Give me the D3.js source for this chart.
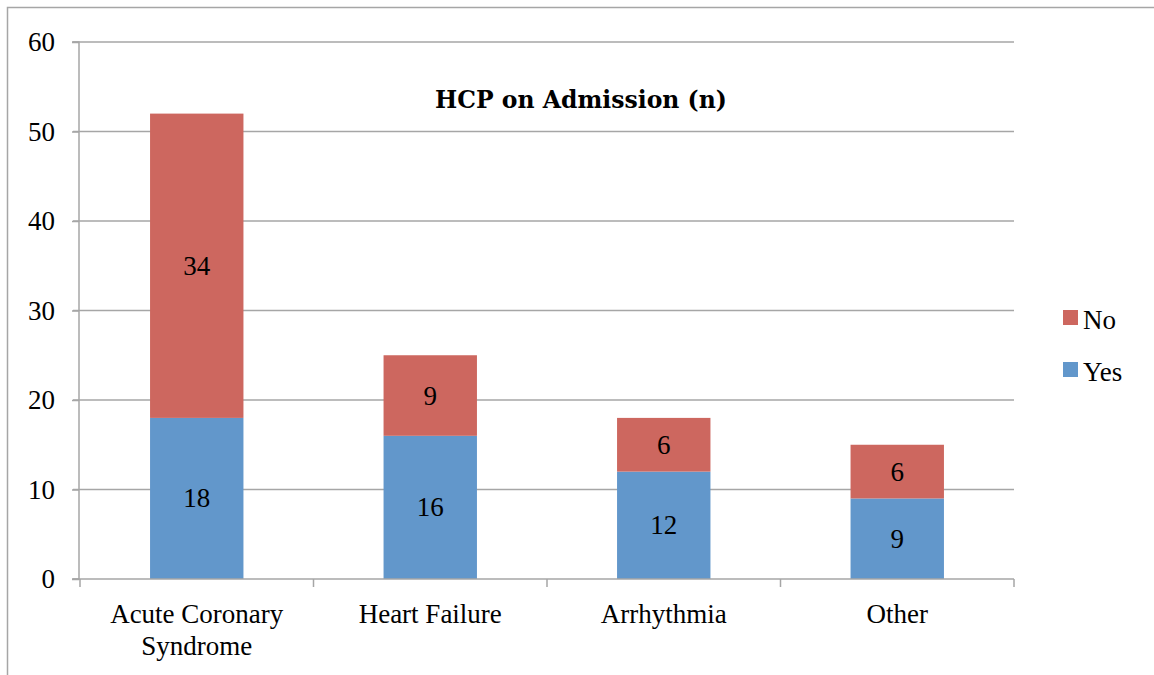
<!DOCTYPE html>
<html><head><meta charset="utf-8">
<script src="https://cdn.jsdelivr.net/npm/d3@7"></script>
<style>body{margin:0;background:#fff}svg{display:block}text{font-family:"Liberation Serif","DejaVu Serif",serif}</style>
</head><body><svg id="c" width="1154" height="675"></svg>
<script>
const categories = ["Acute Coronary Syndrome", "Heart Failure", "Arrhythmia", "Other"];
const categoryLines = [["Acute Coronary", "Syndrome"], ["Heart Failure"], ["Arrhythmia"], ["Other"]];
const yesValues = [18, 16, 12, 9];
const noValues = [34, 9, 6, 6];
const seriesNames = ["Yes", "No"];
const yTicks = [0, 10, 20, 30, 40, 50, 60];
const title = "HCP on Admission (n)";

const colors = {Yes: "#6297CB", No: "#CD675F"};
const svg = d3.select("#c");
const m = {l: 80, r: 1014, t: 42, b: 579};
const x = d3.scaleBand().domain(categories).range([m.l, m.r]).paddingInner(0.6).paddingOuter(0.3);
const xb = d3.scaleBand().domain(categories).range([m.l, m.r]);
const y = d3.scaleLinear().domain([0, 60]).range([m.b, m.t]);
const FS = 27;

// outer frame
svg.append("path").attr("d", `M7.5,675 V7.5 H1154`).attr("fill", "none").attr("stroke", "#a6a6a6").attr("stroke-width", 1.5);

// gridlines
svg.append("g").selectAll("line").data(yTicks.filter(d => d > 0)).join("line")
  .attr("x1", m.l - 7).attr("x2", m.r).attr("y1", d => y(d)).attr("y2", d => y(d))
  .attr("stroke", "#a6a6a6").attr("stroke-width", 1.5);

const data = categories.map((c, i) => ({cat: c, Yes: yesValues[i], No: noValues[i]}));
const stacked = d3.stack().keys(seriesNames)(data);
svg.append("g").selectAll("g").data(stacked).join("g").attr("fill", s => colors[s.key])
  .selectAll("rect").data(s => s).join("rect")
  .attr("x", d => x(d.data.cat)).attr("width", x.bandwidth())
  .attr("y", d => y(d[1])).attr("height", d => y(d[0]) - y(d[1]));

// data labels
svg.append("g").selectAll("g").data(stacked).join("g")
  .selectAll("text").data(s => s).join("text")
  .attr("x", d => x(d.data.cat) + x.bandwidth() / 2)
  .attr("y", d => (y(d[0]) + y(d[1])) / 2 + 9)
  .attr("text-anchor", "middle").attr("font-size", FS).attr("fill", "#000")
  .text(d => d[1] - d[0]);

// y axis
const ya = svg.append("g").attr("transform", `translate(${m.l - 1},0)`)
  .call(d3.axisLeft(y).tickValues(yTicks).tickSize(7).tickPadding(17));
ya.select(".domain").attr("stroke", "#a6a6a6").attr("stroke-width", 1.5).attr("d", `M-7,${m.t}H0V${m.b}H-7`);
ya.selectAll(".tick line").attr("stroke", "#a6a6a6").attr("stroke-width", 1.5);
ya.selectAll(".tick text").attr("font-size", FS).attr("fill", "#000").style("font-family", "'Liberation Serif'").attr("dy", "0.33em");

// x axis
svg.append("line").attr("x1", m.l - 7).attr("x2", m.r).attr("y1", m.b).attr("y2", m.b).attr("stroke", "#a6a6a6").attr("stroke-width", 1.5);
svg.append("g").selectAll("line").data(categories.map((c) => xb(c)).concat([m.r])).join("line")
  .attr("x1", d => d).attr("x2", d => d).attr("y1", m.b).attr("y2", m.b + 8)
  .attr("stroke", "#a6a6a6").attr("stroke-width", 1.5);
svg.append("g").selectAll("text").data(categories).join("text")
  .attr("x", c => xb(c) + xb.bandwidth() / 2).attr("y", 623)
  .attr("text-anchor", "middle").attr("font-size", FS).attr("fill", "#000")
  .selectAll("tspan").data((c, i) => categoryLines[i]).join("tspan")
  .attr("x", function() { return this.parentNode.getAttribute("x"); })
  .attr("dy", (d, j) => j === 0 ? 0 : 32).text(d => d);

// title
svg.append("text").attr("x", 581).attr("y", 108).attr("text-anchor", "middle")
  .attr("font-size", 23.5).attr("font-weight", "bold").style("font-family", "'DejaVu Serif'").attr("fill", "#000").text(title);

// legend
const legendItems = ["No", "Yes"];
const lg = svg.append("g").selectAll("g").data(legendItems).join("g")
  .attr("transform", (d, i) => `translate(1063,${310 + i * 52})`);
lg.append("rect").attr("width", 15).attr("height", 15).attr("fill", d => colors[d]);
lg.append("text").attr("x", 20).attr("y", 19).attr("font-size", FS).attr("fill", "#000").text(d => d);
</script></body></html>
